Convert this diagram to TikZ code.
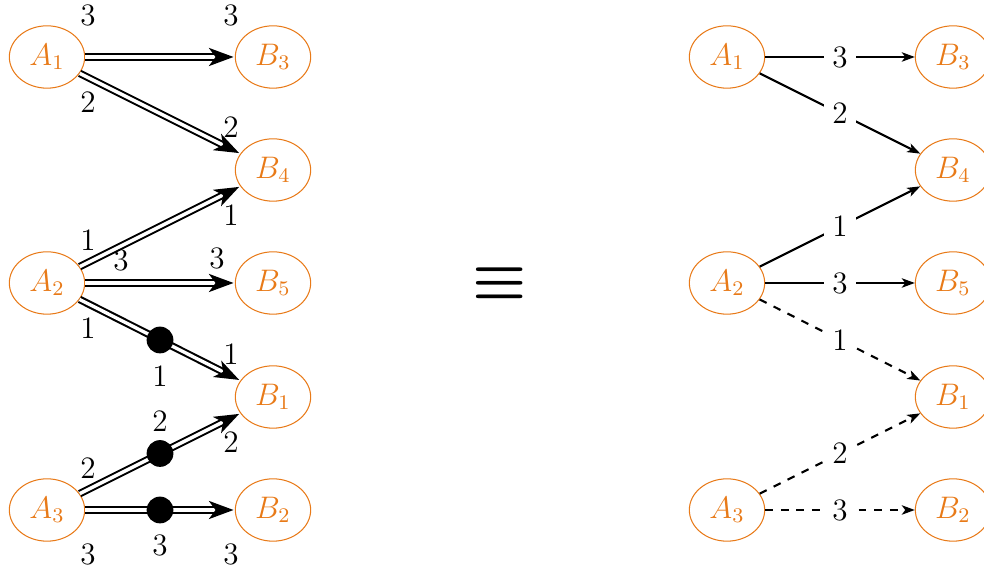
\documentclass[tikz,border=0pt]{standalone}
\usetikzlibrary{arrows.meta,shapes.geometric}
\definecolor{nodeorange}{RGB}{232,122,24}
\newcommand{\bigequiv}{\scalebox{1.95}{\boldmath$\equiv$}}
\begin{document}
\begin{tikzpicture}[x=0.385pt,y=-0.385pt,font=\large,
  vert/.style={ellipse,draw=nodeorange,text=nodeorange,minimum width=29pt,minimum height=24pt,inner sep=1pt},
  lab/.style={inner sep=0pt},
  dbl/.style={double,line width=0.8pt,double distance=1.3pt,-{Stealth[length=9.5pt,width=7pt,inset=2.6pt]},shorten >=0.5pt},
  blob/.style={circle,fill=black,minimum size=10.3pt,inner sep=0pt},
  solidedge/.style={thick,-{Stealth[length=5pt,width=3.6pt,inset=1.3pt]}},
  dashedge/.style={solidedge,dashed},
  mid/.style={fill=white,inner sep=3.2pt}]
\useasboundingbox (0,0) rectangle (984,572);

% left: weighted double arrows
\node[vert] (A1) at (47,57) {$A_1$};
\node[vert] (A2) at (47,283) {$A_2$};
\node[vert] (A3) at (47,510) {$A_3$};
\node[vert] (B3) at (273,57) {$B_3$};
\node[vert] (B4) at (273,170) {$B_4$};
\node[vert] (B5) at (273,283) {$B_5$};
\node[vert] (B1) at (273,397) {$B_1$};
\node[vert] (B2) at (273,510) {$B_2$};

\draw[dbl] (A1) -- (B3);
\draw[dbl] (A1) -- (B4);
\draw[dbl] (A2) -- (B4);
\draw[dbl] (A2) -- (B5);
\draw[dbl] (A2) -- node[blob] (d1) {} (B1);
\draw[dbl] (A3) -- node[blob] (d2) {} (B1);
\draw[dbl] (A3) -- node[blob] (d3) {} (B2);

\node[lab] (l1) at (88,15) {3};
\node[lab] (l2) at (231,15) {3};
\node[lab] (l3) at (88,102) {2};
\node[lab] (l4) at (231,127) {2};
\node[lab] (l5) at (88,240) {1};
\node[lab] (l6) at (231,215) {1};
\node[lab] (l7) at (121,260) {3};
\node[lab] (l8) at (217,258) {3};
\node[lab] (l9) at (88,328) {1};
\node[lab] (l10) at (160,376) {1};
\node[lab] (l11) at (231,354) {1};
\node[lab] (l12) at (88,468) {2};
\node[lab] (l13) at (160,421) {2};
\node[lab] (l14) at (231,442) {2};
\node[lab] (l15) at (88,554) {3};
\node[lab] (l16) at (160,545) {3};
\node[lab] (l17) at (231,554) {3};

% equivalence sign
\node (equivsign) at (500,283) {\bigequiv};

% right: labelled single arrows
\node[vert] (a1) at (727,57) {$A_1$};
\node[vert] (a2) at (727,283) {$A_2$};
\node[vert] (a3) at (727,510) {$A_3$};
\node[vert] (b3) at (953,57) {$B_3$};
\node[vert] (b4) at (953,170) {$B_4$};
\node[vert] (b5) at (953,283) {$B_5$};
\node[vert] (b1) at (953,397) {$B_1$};
\node[vert] (b2) at (953,510) {$B_2$};

\draw[solidedge] (a1) -- node[mid] (w1) {3} (b3);
\draw[solidedge] (a1) -- node[mid] (w2) {2} (b4);
\draw[solidedge] (a2) -- node[mid] (w3) {1} (b4);
\draw[solidedge] (a2) -- node[mid] (w4) {3} (b5);
\draw[dashedge] (a2) -- node[mid] (w5) {1} (b1);
\draw[dashedge] (a3) -- node[mid] (w6) {2} (b1);
\draw[dashedge] (a3) -- node[mid] (w7) {3} (b2);
\end{tikzpicture}
\end{document}
